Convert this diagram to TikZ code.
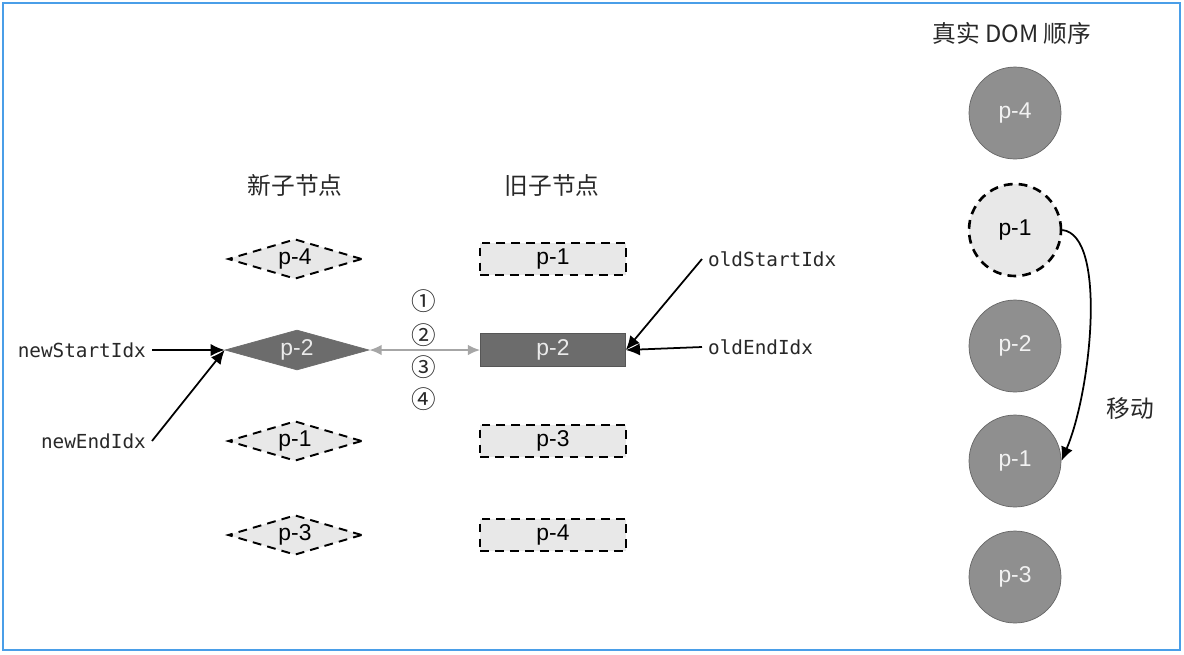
\documentclass[tikz,border=0pt]{standalone}
\usepackage{fontspec}
\setmainfont{Liberation Sans}
\newfontfamily\cjkfont{Noto Sans CJK SC}
\newfontfamily\monofont{DejaVu Sans Mono}
\usetikzlibrary{shapes.geometric,arrows.meta}

\definecolor{frameblue}{RGB}{74,158,232}
\definecolor{lightfill}{RGB}{232,232,232}
\definecolor{darkfill}{RGB}{108,108,108}
\definecolor{domfill}{RGB}{143,143,143}
\definecolor{txtgray}{RGB}{40,40,40}

\begin{document}
\begin{tikzpicture}[x=0.02cm, y=-0.02cm,
    font=\fontsize{13}{15}\selectfont,
    dashline/.style={draw=black, line width=1.1pt, dash pattern=on 5pt off 3.5pt},
    newnode/.style={diamond, shape aspect=3.35, inner sep=0pt, minimum width=2.68cm, minimum height=0.8cm, fill=lightfill, dashline},
    newcur/.style={diamond, shape aspect=3.6, inner sep=0pt, minimum width=2.88cm, minimum height=0.8cm, fill=darkfill, draw=darkfill, text=white!92!black},
    oldnode/.style={rectangle, inner sep=0pt, minimum width=2.92cm, minimum height=0.64cm, fill=lightfill, dashline},
    oldcur/.style={rectangle, inner sep=0pt, minimum width=2.9cm, minimum height=0.66cm, fill=darkfill, draw=darkfill!80!black, text=white!92!black},
    domnode/.style={circle, inner sep=0pt, minimum size=1.84cm, fill=domfill, draw=black!60, text=white!95!black},
    idx/.style={font=\monofont\fontsize{11}{13}\selectfont, text=txtgray},
    title/.style={font=\cjkfont\fontsize{13.5}{16}\selectfont, text=txtgray},
    ptr/.style={-{Latex[length=8pt,width=7pt]}, line width=1pt}]
    \useasboundingbox (0,0) rectangle (1184,654);
    \draw[frameblue, line width=1.2pt] (3,3) rectangle (1180,650);

    % new and old children
    \node[title] (newtitle) at (295,185) {新子节点};
    \node[title] (oldtitle) at (552,185) {旧子节点};

    \node[newnode] (new4) at (295,259) {p-4};
    \node[newcur]  (new2) at (297,350) {p-2};
    \node[newnode] (new1) at (295,441) {p-1};
    \node[newnode] (new3) at (295,535) {p-3};

    \node[oldnode] (old1) at (553,259) {p-1};
    \node[oldcur]  (old2) at (553,350) {p-2};
    \node[oldnode] (old3) at (553,441) {p-3};
    \node[oldnode] (old4) at (553,535) {p-4};

    \foreach \y/\s [count=\i] in {301/①,335/②,367/③,399/④}
        \node[font=\cjkfont\fontsize{14}{16}\selectfont, text=txtgray] (cmp\i) at (424,\y) {\s};

    \draw[{Latex[length=7pt,width=6pt]}-{Latex[length=7pt,width=6pt]}, draw=black!35, line width=1pt] (new2.east) -- (old2.west);

    % index pointers
    \node[idx, anchor=east] (nsi) at (152,350) {newStartIdx};
    \node[idx, anchor=east] (nei) at (152,441) {newEndIdx};
    \node[idx, anchor=west] (osi) at (702,259) {oldStartIdx};
    \node[idx, anchor=west] (oei) at (702,347) {oldEndIdx};

    \draw[ptr] (nsi.east) -- (new2.west);
    \draw[ptr] (nei.east) -- (new2.west);
    \draw[ptr] (osi.west) -- (old2.east);
    \draw[ptr] (oei.west) -- (old2.east);

    % real DOM order
    \node[title] (domtitle) at (1012,33) {真实 DOM 顺序};
    \node[domnode] (dom4) at (1015,113) {p-4};
    \node[domnode, fill=lightfill, text=black, dashline, line width=1.5pt] (dom1) at (1015,230) {p-1};
    \node[domnode] (dom2) at (1015,346) {p-2};
    \node[domnode] (domm) at (1015,461) {p-1};
    \node[domnode] (dom3) at (1015,577) {p-3};

    \draw[ptr] (dom1.east) .. controls +(45,5) and +(30,-70) .. (domm.east);
    \node[title] (move) at (1130,409) {移动};
\end{tikzpicture}
\end{document}
